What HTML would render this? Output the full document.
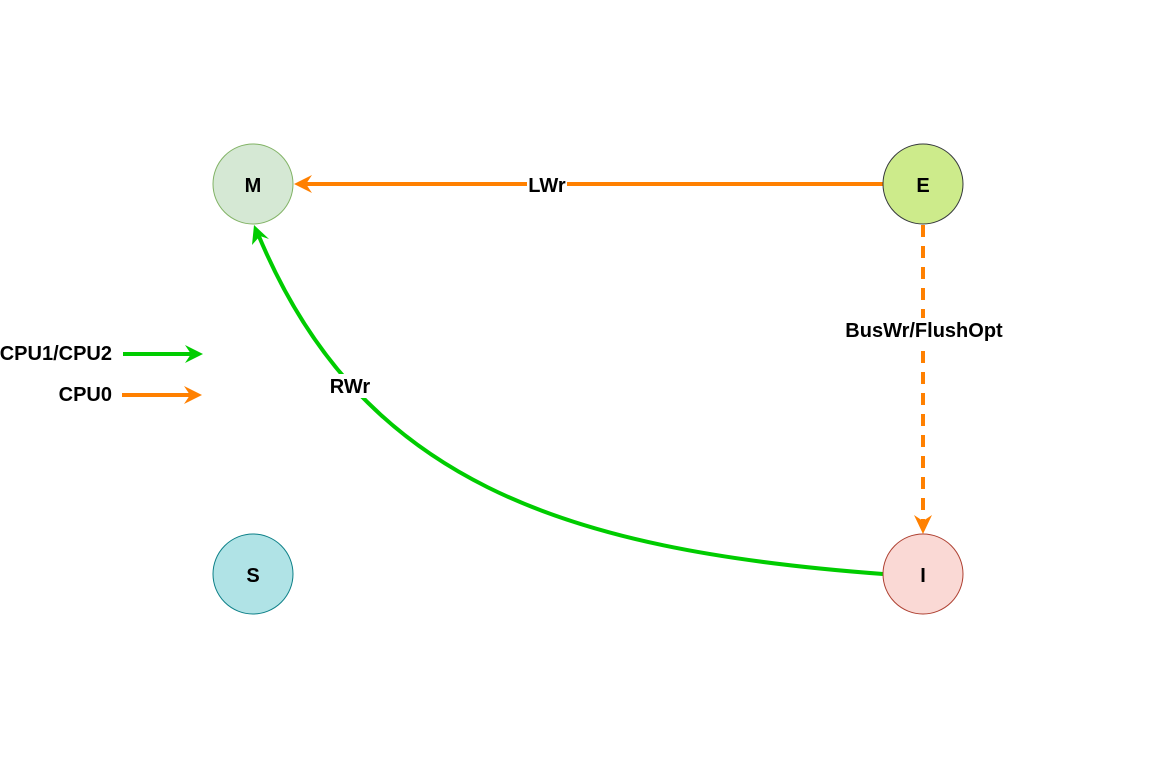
<!DOCTYPE html>
<html><head><style>body{margin:0;background:#fff}svg{display:block}</style></head>
<body>
<svg width="1170" height="765" viewBox="0 0 1170 765" xmlns="http://www.w3.org/2000/svg" font-family="Liberation Sans, sans-serif" font-weight="bold">
<rect width="1170" height="765" fill="#fff"/>
<!-- LWr -->
<line x1="883" y1="184" x2="305" y2="184" stroke="#ff8000" stroke-width="4"/>
<path d="M294,184 L312,175 L306,184 L312,193 Z" fill="#ff8000"/>
<rect x="527" y="174" width="40" height="22" fill="#fff"/>
<text x="547" y="192" font-size="20" text-anchor="middle">LWr</text>
<!-- BusWr dashed -->
<line x1="923" y1="225" x2="923" y2="522" stroke="#ff8000" stroke-width="4" stroke-dasharray="12,9"/>
<path d="M923,534 L914,515 L923,521 L932,515 Z" fill="#ff8000"/>
<rect x="845" y="318" width="158" height="24" fill="#fff"/>
<text x="924" y="337" font-size="20" text-anchor="middle">BusWr/FlushOpt</text>
<!-- RWr curve -->
<path d="M883,574 C560,550 360,480 258,234" fill="none" stroke="#00cc00" stroke-width="4"/>
<path d="M254,225 L269,239 L260,236 L252,245 Z" fill="#00cc00"/>
<rect x="328" y="374" width="45" height="24" fill="#fff"/>
<text x="350" y="393" font-size="20" text-anchor="middle">RWr</text>
<!-- legend -->
<line x1="123" y1="354" x2="192" y2="354" stroke="#00cc00" stroke-width="4"/>
<path d="M203,354 L185,345 L191,354 L185,363 Z" fill="#00cc00"/>
<text x="112" y="360" font-size="20" text-anchor="end">CPU1/CPU2</text>
<line x1="122" y1="395" x2="191" y2="395" stroke="#ff8000" stroke-width="4"/>
<path d="M202,395 L184,386 L190,395 L184,404 Z" fill="#ff8000"/>
<text x="112" y="401" font-size="20" text-anchor="end">CPU0</text>
<!-- nodes -->
<circle cx="253" cy="184" r="40" fill="#d5e8d4" stroke="#82b366"/>
<text x="253" y="192" font-size="20" text-anchor="middle">M</text>
<circle cx="923" cy="184" r="40" fill="#cdeb8b" stroke="#36393d"/>
<text x="923" y="192" font-size="20" text-anchor="middle">E</text>
<circle cx="253" cy="574" r="40" fill="#b0e3e6" stroke="#0e8088"/>
<text x="253" y="582" font-size="20" text-anchor="middle">S</text>
<circle cx="923" cy="574" r="40" fill="#fad9d5" stroke="#ae4132"/>
<text x="923" y="582" font-size="20" text-anchor="middle">I</text>
</svg>
</body></html>
